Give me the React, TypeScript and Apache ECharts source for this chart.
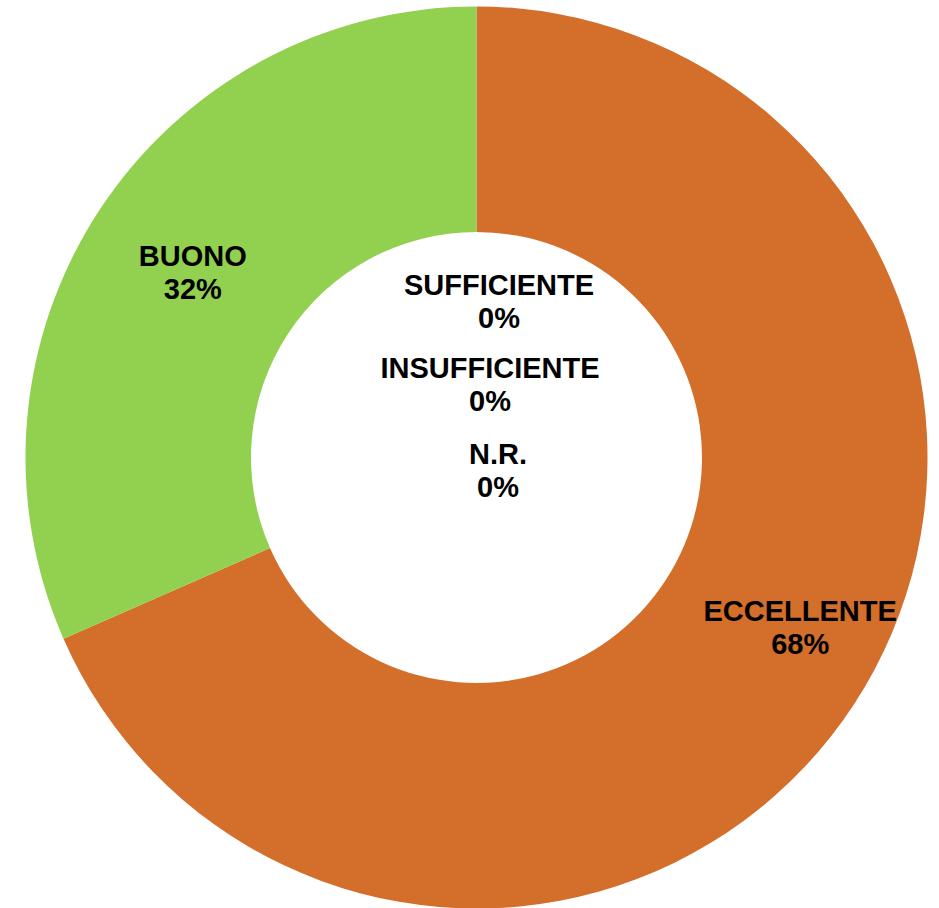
import React, { useEffect, useRef } from "react";
import * as echarts from "echarts";

const categories = ["ECCELLENTE", "BUONO", "SUFFICIENTE", "INSUFFICIENTE", "N.R."];
const values = [13, 6, 0, 0, 0];
const colors = ["#D36E2B", "#92D050", "#4F81BD", "#8064A2", "#4BACC6"];

// label placement (layout only)
const labelShift: Record<number, { dx?: number; dy?: number; x?: number; y?: number }> = {
  0: { dx: 38, dy: -17 },
  1: { dx: 2, dy: 2 },
  2: { x: 499, y: 301 },
  3: { x: 490, y: 384 },
  4: { x: 498, y: 470 },
};

export default function App() {
  const ref = useRef<HTMLDivElement>(null);
  useEffect(() => {
    document.body.style.margin = "0";
    const chart = echarts.init(ref.current!, null, { renderer: "svg" });
    chart.setOption({
      animation: false,
      backgroundColor: "#ffffff",
      series: [
        {
          type: "pie",
          center: [476.5, 457.5],
          radius: [225.5, 451],
          startAngle: 90,
          clockwise: true,
          avoidLabelOverlap: false,
          percentPrecision: 0,
          label: {
            show: true,
            position: "inside",
            formatter: "{b}\n{d}%",
            fontFamily: "Liberation Sans, Arial, sans-serif",
            fontWeight: "bold",
            fontSize: 29,
            lineHeight: 33,
            color: "#000000",
            align: "center",
            verticalAlign: "middle",
          },
          labelLine: { show: false },
          emphasis: { disabled: true },
          labelLayout: (p: any) => {
            const s = labelShift[p.dataIndex] || {};
            const out: any = { align: "center", verticalAlign: "middle" };
            if (s.x !== undefined) {
              out.x = s.x;
              out.y = s.y;
            } else {
              out.dx = s.dx;
              out.dy = s.dy;
            }
            return out;
          },
          data: categories.map((name, i) => ({
            name,
            value: values[i],
            itemStyle: { color: colors[i] },
          })),
        },
      ],
    });
    return () => chart.dispose();
  }, []);
  return <div ref={ref} style={{ width: 939, height: 908 }} />;
}
